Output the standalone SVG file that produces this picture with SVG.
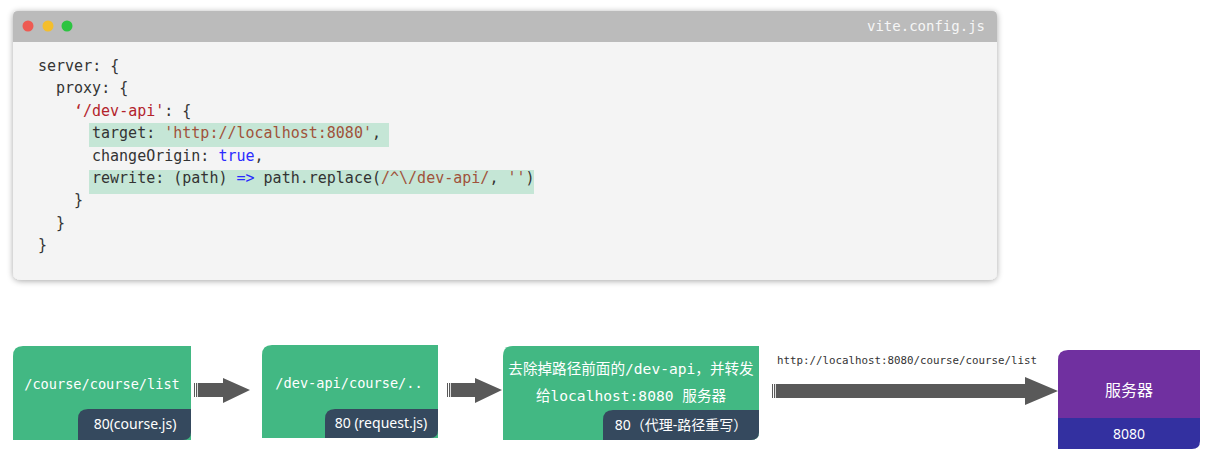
<svg xmlns="http://www.w3.org/2000/svg" width="1221" height="466" viewBox="0 0 1221 466">
<defs>
<filter id="sh" x="-5%" y="-10%" width="110%" height="120%">
<feGaussianBlur in="SourceAlpha" stdDeviation="3"/>
<feOffset dx="0" dy="1"/>
<feComponentTransfer><feFuncA type="linear" slope="0.35"/></feComponentTransfer>
<feMerge><feMergeNode/><feMergeNode in="SourceGraphic"/></feMerge>
</filter>
</defs>
<style>
.code{font-family:"DejaVu Sans Mono","Liberation Mono",monospace;font-size:15px;fill:#333}
.kw{fill:#2b2bff}
.str{fill:#a0523a}
.key{fill:#b3232c}
.mono{font-family:"DejaVu Sans Mono","Liberation Mono","Noto Sans CJK SC",monospace;font-size:13.6px;fill:#fff;text-anchor:middle}
.lbl{font-family:"Noto Sans","Noto Sans CJK SC",sans-serif;font-size:14px;fill:#fff;text-anchor:middle}
.green{fill:#42b883}
.dark{fill:#35495e}
.arrow{fill:#595959}
</style>
<rect width="1221" height="466" fill="#fff"/>
<g id="code-window">
<path d="M13 16 Q13 11 18 11 H992 Q997 11 997 16 V272 Q997 280 989 280 H21 Q13 280 13 272 Z" fill="#f4f4f4" filter="url(#sh)"/>
<path d="M13 16 Q13 11 18 11 H992 Q997 11 997 16 V42 H13 Z" fill="#bbbbbb"/>
<circle cx="28" cy="26" r="5.5" fill="#ee5a52"/>
<circle cx="48" cy="26" r="5.5" fill="#f4be2c"/>
<circle cx="67" cy="26" r="5.5" fill="#2cc441"/>
<text x="985" y="31" text-anchor="end" style="font-family:'DejaVu Sans Mono','Liberation Mono',monospace;font-size:14px;fill:#f6f6f6">vite.config.js</text>
<rect x="89" y="123" width="300" height="24" fill="#c5e6d6"/>
<rect x="89" y="170" width="445" height="24" fill="#c5e6d6"/>
<text class="code" x="38" y="71">server: {</text>
<text class="code" x="56" y="93">proxy: {</text>
<text class="code" x="74" y="116"><tspan class="key">‘/dev-api'</tspan>: {</text>
<text class="code" x="92" y="138">target: <tspan class="str">'http://localhost:8080'</tspan>,</text>
<text class="code" x="92" y="161">changeOrigin: <tspan class="kw">true</tspan>,</text>
<text class="code" x="92" y="183">rewrite: (path) <tspan class="kw">=&gt;</tspan> path.replace(<tspan class="str">/^\/dev-api/</tspan>, <tspan class="str">''</tspan>)</text>
<text class="code" x="74" y="205">}</text>
<text class="code" x="56" y="228">}</text>
<text class="code" x="38" y="250">}</text>
</g>
<g id="node-course">
<path class="green" d="M13 356 Q13 346 23 346 H191 V440 H13 Z"/>
<path class="dark" d="M78 419 Q78 409 88 409 H191 V432 Q191 440 183 440 H78 Z"/>
<text class="mono" x="102" y="389">/course/course/list</text>
<text class="lbl" x="135" y="429">80(course.js)</text>
</g>
<g id="node-request">
<path class="green" d="M262 355 Q262 345 272 345 H438 V438 H262 Z"/>
<path class="dark" d="M325 419 Q325 409 335 409 H438 V430 Q438 438 430 438 H325 Z"/>
<text class="mono" x="349" y="388">/dev-api/course/..</text>
<text class="lbl" x="381" y="428">80 (request.js)</text>
</g>
<g id="node-proxy">
<path class="green" d="M503 356 Q503 346 513 346 H759 V432 Q759 440 751 440 H503 Z"/>
<path class="dark" d="M603 420 Q603 410 613 410 H759 V432 Q759 440 751 440 H603 Z"/>
<text class="mono" x="631" y="374" style="font-size:14.6px">去除掉路径前面的/dev-api，并转发</text>
<text class="mono" x="631" y="401" style="font-size:14.6px">给localhost:8080 服务器</text>
<text class="lbl" x="681" y="430">80（代理-路径重写）</text>
</g>
<g id="node-server">
<path d="M1058 360 Q1058 350 1068 350 H1200 V418 H1058 Z" fill="#7030a0"/>
<path d="M1058 418 H1200 V441 Q1200 449 1192 449 H1058 Z" fill="#3330a0"/>
<text class="lbl" x="1129" y="396" style="font-size:16px">服务器</text>
<text class="lbl" x="1129" y="439">8080</text>
</g>
<g id="connectors">
<rect class="arrow" x="194" y="383" width="1" height="14"/>
<rect class="arrow" x="196" y="383" width="1.2" height="14"/>
<path class="arrow" d="M198 383 H223 V378 L250 390 L223 403 V397 H198 Z"/>
<rect class="arrow" x="447" y="383" width="1" height="14"/>
<rect class="arrow" x="449" y="383" width="1.2" height="14"/>
<path class="arrow" d="M451 383 H475 V378 L502 390 L475 403 V397 H451 Z"/>
<rect class="arrow" x="772" y="384" width="1" height="14"/>
<rect class="arrow" x="774" y="384" width="1.2" height="14"/>
<path class="arrow" d="M776 384 H1025 V377 L1058 391 L1025 405 V398 H776 Z"/>
<text x="777" y="364" style="font-family:'DejaVu Sans Mono','Liberation Mono',monospace;font-size:10.8px;fill:#333">http://localhost:8080/course/course/list</text>
</g>
</svg>
